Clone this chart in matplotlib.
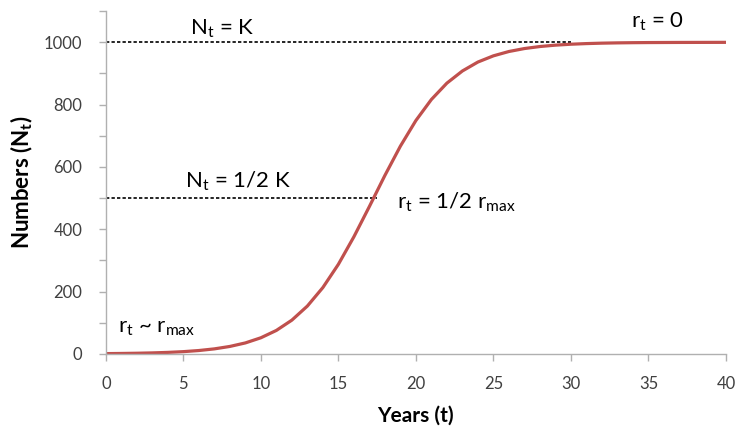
import matplotlib
matplotlib.use("Agg")
import matplotlib.pyplot as plt
from matplotlib.ticker import MultipleLocator

plt.rcParams['font.family'] = ['Lato', 'DejaVu Sans']
plt.rcParams['mathtext.fontset'] = 'custom'
plt.rcParams['mathtext.rm'] = 'Lato'
plt.rcParams['mathtext.bf'] = 'Lato:bold'

# logistic growth, numbers per year
years = list(range(0, 41))
numbers = [1, 1.5, 2.2, 3.3, 4.9, 7.3, 10.9, 16.2, 24, 35.3,
           51.8, 75.4, 108.4, 153.6, 213, 287.5, 375.8, 473, 572.7, 666.7,
           749, 816.5, 869, 908, 936.7, 956.6, 970.5, 980, 986.5, 990.9,
           993.9, 995.9, 997.3, 998.2, 998.8, 999.2, 999.4, 999.6, 999.7, 999.8,
           999.9]

K = 1000
half_K = 500
K_end = 30       # where the K guide stops
half_end = 17.5  # where the K/2 guide stops

axis_col = '#b0b0b0'
text_col = '#404040'

fig = plt.figure(figsize=(7.4, 4.29), dpi=100)
ax = fig.add_axes([0.143, 0.175, 0.838, 0.799])

dash = (0, (2, 1.3))
ax.plot([0, K_end], [K, K], color='black', lw=1.2, ls=dash)
ax.plot([0, half_end], [half_K, half_K], color='black', lw=1.2, ls=dash)
ax.plot(years, numbers, color='#c0504d', lw=2.3, solid_joinstyle='round')

ax.set_xlim(0, 40)
ax.set_ylim(0, 1100)
ax.xaxis.set_major_locator(MultipleLocator(5))
ax.set_yticks([0, 200, 400, 600, 800, 1000])
ax.set_yticks([100, 300, 500, 700, 900, 1100], minor=True)

for s in ['top', 'right']:
    ax.spines[s].set_visible(False)
for s in ['left', 'bottom']:
    ax.spines[s].set_color(axis_col)
    ax.spines[s].set_linewidth(1.0)
ax.tick_params(which='both', color=axis_col, length=5, width=1.0,
               labelsize=12, labelcolor=text_col)
ax.tick_params(axis='y', pad=12)
ax.tick_params(axis='x', pad=11)

ax.set_xlabel('Years (t)', fontsize=15, fontweight='bold', color='black', labelpad=10)
ax.set_ylabel(r'Numbers (N$_\mathbf{t}$)', fontsize=16, fontweight='bold',
              color='black', labelpad=6)

lab = dict(fontsize=16, color='black', va='center', ha='left')
ax.text(5.4, 1045, r'N$_\mathregular{t}$ = K', **lab)
ax.text(5.1, 555, r'N$_\mathregular{t}$ = 1/2 K', **lab)
ax.text(18.8, 487, r'r$_\mathregular{t}$ = 1/2 r$_\mathregular{max}$', **lab)
ax.text(33.9, 1065, r'r$_\mathregular{t}$ = 0', **lab)
ax.text(0.8, 83, r'r$_\mathregular{t}$ ~ r$_\mathregular{max}$', **lab)

fig.savefig('out.png', dpi=100)
